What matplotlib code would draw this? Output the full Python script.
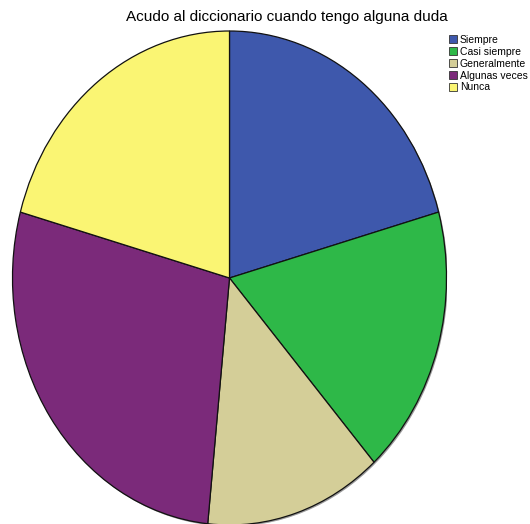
import matplotlib
matplotlib.use("Agg")
import matplotlib.pyplot as plt
from matplotlib.patches import Ellipse

title = "Acudo al diccionario cuando tengo alguna duda"
categories = ["Siempre", "Casi siempre", "Generalmente", "Algunas veces", "Nunca"]
percents = [20.7, 17.7, 13.2, 27.7, 20.7]
colors = ["#3E58AC", "#2EB848", "#D4CE98", "#7B2A7A", "#FAF573"]

plt.rcParams['font.family'] = ['Liberation Sans', 'DejaVu Sans']

W, H = 530, 524
fig = plt.figure(figsize=(W / 100, H / 100), dpi=100)
fig.patch.set_facecolor("white")

# pie area in pixels: x 13..446, y(top) 31..525
left, right, top, bottom = 12.5, 446.5, 31, 525
ax = fig.add_axes([left / W, (H - bottom) / H, (right - left) / W, (bottom - top) / H])

# subtle shadow
ax.add_patch(Ellipse((0.006, -0.006), 2.0, 2.0, facecolor="#9a9a9a", edgecolor="none", zorder=0))

wedges, _ = ax.pie(percents, colors=colors, startangle=90, counterclock=False,
                   wedgeprops=dict(edgecolor="#111111", linewidth=0.9), radius=1.0)
for w in wedges:
    w.set_zorder(1)
ax.set_aspect('auto')
ax.set_xlim(-1, 1)
ax.set_ylim(-1, 1)
ax.axis('off')

fig.text(287 / W, 1 - 17 / H, title, ha="center", va="center", fontsize=11, color="black")

leg = fig.legend(wedges, categories, loc="upper left",
                 bbox_to_anchor=(449 / W, 1 - 35 / H),
                 frameon=False, fontsize=7.5, handlelength=0.8, handleheight=0.8,
                 handletextpad=0.25, labelspacing=0.18, borderpad=0, borderaxespad=0)
for h in leg.legend_handles:
    h.set_edgecolor("#333333")
    h.set_linewidth(0.6)

fig.savefig("out.png", dpi=100, facecolor="white")
